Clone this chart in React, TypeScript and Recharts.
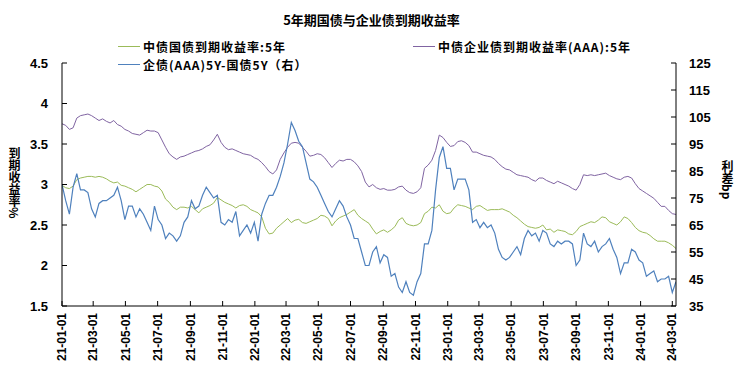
import React from 'react';
import { LineChart, Line, XAxis, YAxis } from 'recharts';

// ---- data (weekly samples starting 2021-01-01) ----
const startDate = '2021-01-01';

const govt5y: number[] = [
  2.99, 2.96, 2.95, 2.98, 3.06, 3.08, 3.09, 3.10, 3.10, 3.09, 3.10, 3.09, 3.07, 3.04, 3.02, 3.03, 2.99, 2.98, 2.96, 2.94,
  2.91, 2.94, 2.97, 3.00, 3.00, 2.98, 2.97, 2.92, 2.82, 2.78, 2.72, 2.69, 2.72, 2.72,
  2.71, 2.73, 2.69, 2.65, 2.70, 2.72, 2.74, 2.77, 2.84, 2.81, 2.78, 2.76, 2.74, 2.71, 2.74, 2.75, 2.73, 2.69, 2.67, 2.65,
  2.60, 2.46, 2.39, 2.40, 2.46, 2.50, 2.54, 2.58, 2.53, 2.56, 2.57, 2.53, 2.52, 2.54,
  2.56, 2.58, 2.62, 2.61, 2.58, 2.49, 2.55, 2.59, 2.61, 2.63, 2.66, 2.69, 2.62, 2.58, 2.55, 2.52, 2.45, 2.39, 2.42, 2.44,
  2.41, 2.44, 2.48, 2.56, 2.59, 2.52, 2.50, 2.49, 2.50, 2.53, 2.64, 2.67, 2.72,
  2.71, 2.75, 2.67, 2.64, 2.65, 2.71, 2.75, 2.74, 2.73, 2.71, 2.69, 2.73, 2.74, 2.71, 2.68, 2.69, 2.69, 2.69, 2.70, 2.68,
  2.66, 2.62, 2.59, 2.55, 2.51, 2.48, 2.47, 2.46, 2.47, 2.50, 2.44, 2.45, 2.41, 2.44,
  2.43, 2.42, 2.39, 2.38, 2.42, 2.48, 2.50, 2.52, 2.54, 2.53, 2.56, 2.60, 2.59, 2.54, 2.52, 2.50, 2.54, 2.60, 2.58, 2.53,
  2.47, 2.43, 2.41, 2.40, 2.37, 2.33, 2.30, 2.30, 2.30, 2.28, 2.25, 2.21,
];

const corpAAA5y: number[] = [
  3.75, 3.73, 3.68, 3.70, 3.82, 3.85, 3.86, 3.87, 3.85, 3.82, 3.79, 3.81, 3.78, 3.76, 3.79, 3.74, 3.72, 3.68, 3.66, 3.63,
  3.62, 3.61, 3.64, 3.67, 3.66, 3.66, 3.64, 3.55, 3.46, 3.38, 3.34, 3.31, 3.34, 3.35,
  3.37, 3.39, 3.41, 3.42, 3.44, 3.47, 3.49, 3.55, 3.62, 3.52, 3.46, 3.43, 3.44, 3.42, 3.40, 3.38, 3.37, 3.36, 3.33, 3.31,
  3.27, 3.22, 3.16, 3.13, 3.18, 3.31, 3.39, 3.46, 3.51, 3.52, 3.51, 3.46, 3.41, 3.35,
  3.36, 3.38, 3.37, 3.33, 3.27, 3.21, 3.26, 3.30, 3.29, 3.31, 3.31, 3.28, 3.23, 3.16, 3.03, 2.97, 3.00, 2.96, 2.94, 2.95,
  2.93, 2.93, 2.94, 2.97, 2.98, 2.93, 2.90, 2.89, 2.91, 2.96, 3.20, 3.24, 3.30,
  3.42, 3.61, 3.58, 3.52, 3.47, 3.48, 3.53, 3.54, 3.52, 3.48, 3.40, 3.40, 3.38, 3.36, 3.35, 3.34, 3.31, 3.26, 3.22, 3.19,
  3.18, 3.15, 3.12, 3.11, 3.10, 3.09, 3.06, 3.04, 3.08, 3.08, 3.05, 3.03, 3.01, 3.04,
  3.02, 3.00, 2.98, 2.95, 2.93, 3.00, 3.12, 3.11, 3.12, 3.11, 3.12, 3.13, 3.14, 3.11, 3.09, 3.07, 3.06, 3.09, 3.10, 3.08,
  3.01, 2.95, 2.92, 2.89, 2.86, 2.83, 2.78, 2.73, 2.73, 2.68, 2.64, 2.63,
];

const spreadBp: number[] = [
  80, 74, 69, 79, 84, 78, 78, 77, 71, 68, 73, 74, 74, 75, 76, 79, 74, 67, 72, 72,
  68, 71, 69, 66, 63, 72, 67, 65, 60, 62, 61, 59, 61, 66,
  68, 74, 71, 72, 76, 79, 77, 75, 76, 66, 65, 67, 66, 70, 61, 63, 65, 62, 66, 59,
  69, 73, 76, 76, 79, 83, 88, 95, 103, 100, 96, 94, 88, 82,
  81, 79, 76, 73, 70, 68, 71, 74, 72, 68, 65, 60, 60, 55, 50, 50, 55, 57, 51, 54,
  53, 46, 47, 42, 40, 44, 40, 39, 44, 47, 58, 58, 63,
  78, 90, 94, 86, 86, 78, 82, 82, 82, 78, 66, 67, 64, 66, 64, 65, 62, 56, 53, 52,
  53, 55, 57, 54, 60, 63, 61, 62, 59, 63, 62, 58, 57, 59,
  58, 59, 59, 58, 50, 52, 62, 58, 57, 59, 55, 57, 58, 60, 56, 53, 47, 51, 51, 56,
  55, 52, 51, 46, 47, 48, 44, 45, 45, 46, 40, 44,
];

const xTickLabels = [
  '21-01-01', '21-03-01', '21-05-01', '21-07-01', '21-09-01', '21-11-01',
  '22-01-01', '22-03-01', '22-05-01', '22-07-01', '22-09-01', '22-11-01',
  '23-01-01', '23-03-01', '23-05-01', '23-07-01', '23-09-01', '23-11-01',
  '24-01-01', '24-03-01',
];
const xEndLabel = '24-03-08';
const leftTicks = [1.5, 2, 2.5, 3, 3.5, 4, 4.5];
const rightTicks = [35, 45, 55, 65, 75, 85, 95, 105, 115, 125];

const seriesNames = {
  govt: '中债国债到期收益率:5年',
  corp: '中债企业债到期收益率(AAA):5年',
  spread: '企债(AAA)5Y-国债5Y（右）',
};
const titleText = '5年期国债与企业债到期收益率';
const leftTitle = '到期收益率%';
const rightTitle = '利差bp';

const COLORS = { govt: '#9BBB59', corp: '#8064A2', spread: '#4F81BD' };

// ---- helpers ----
const DAY = 86400000;
const labelToTime = (s: string) => {
  const [yy, mm, dd] = s.split('-').map(Number);
  return Date.UTC(2000 + yy, mm - 1, dd);
};
const t0 = Date.parse(startDate + 'T00:00:00Z');
const tEnd = labelToTime(xEndLabel);
const xTicks = xTickLabels.map(labelToTime);
const pad = (n: number) => String(n).padStart(2, '0');
const fmtDate = (t: number) => {
  const d = new Date(t);
  return `${pad(d.getUTCFullYear() % 100)}-${pad(d.getUTCMonth() + 1)}-${pad(d.getUTCDate())}`;
};

const data = govt5y.map((g, i) => ({
  t: t0 + i * 7 * DAY,
  govt: g,
  corp: corpAAA5y[i],
  spread: spreadBp[i],
}));

const tickFont = "'Liberation Sans', Arial, sans-serif";
const cjkFont = "'Noto Sans CJK SC', 'Noto Sans', sans-serif";

const LeftTick = (props: any) => {
  const { x, y, payload } = props;
  return (
    <g>
      <line x1={x} x2={x + 5} y1={y} y2={y} stroke="#000" strokeWidth={1} />
      <text x={x - 14} y={y} dy="0.35em" textAnchor="end" fontFamily={tickFont} fontWeight={700} fontSize={13} fill="#000">
        {String(payload.value)}
      </text>
    </g>
  );
};

const RightTick = (props: any) => {
  const { x, y, payload } = props;
  return (
    <g>
      <line x1={x - 5} x2={x} y1={y} y2={y} stroke="#000" strokeWidth={1} />
      <text x={x + 13} y={y} dy="0.35em" textAnchor="start" fontFamily={tickFont} fontWeight={700} fontSize={13} fill="#000">
        {String(payload.value)}
      </text>
    </g>
  );
};

const BottomTick = (props: any) => {
  const { x, y, payload } = props;
  return (
    <g>
      <line x1={x} x2={x} y1={y} y2={y - 5} stroke="#000" strokeWidth={1} />
      <text
        x={x}
        y={y + 7}
        dy="0.35em"
        textAnchor="end"
        transform={`rotate(-90, ${x}, ${y + 7})`}
        fontFamily={tickFont}
        fontWeight={700}
        fontSize={12}
        fill="#000"
      >
        {fmtDate(payload.value)}
      </text>
    </g>
  );
};

const textStyle: React.CSSProperties = {
  fontFamily: cjkFont,
  fontWeight: 700,
  fontSize: 13,
  color: '#000',
  whiteSpace: 'nowrap',
  lineHeight: '13px',
};

const LegendItem = ({ left, top, color, label }: { left: number; top: number; color: string; label: string }) => (
  <div style={{ position: 'absolute', left, top, height: 13, display: 'flex', alignItems: 'center' }}>
    <div style={{ width: 22, height: 1, background: color, marginRight: 3 }} />
    <span style={{ ...textStyle, fontSize: 12, lineHeight: '12px', letterSpacing: '1px' }}>{label}</span>
  </div>
);

const VerticalTitle = ({ text, centerX, top }: { text: string; centerX: number; top: number }) => (
  <div
    style={{
      ...textStyle,
      fontSize: 12,
      lineHeight: '12px',
      position: 'absolute',
      left: centerX - 6,
      top,
      writingMode: 'vertical-rl',
    }}
  >
    {text}
  </div>
);

export default function App() {
  return (
    <div style={{ position: 'absolute', left: 0, top: 0, width: 743, height: 378, background: '#fff' }}>
      <LineChart width={743} height={378} data={data} margin={{ top: 63, right: 17, bottom: 7, left: 12 }}>
        <XAxis
          dataKey="t"
          type="number"
          domain={[t0, tEnd]}
          ticks={xTicks}
          interval={0}
          tick={<BottomTick />}
          tickSize={0}
          tickMargin={0}
          height={65}
          axisLine={{ stroke: '#000', strokeWidth: 1 }}
          tickLine={false}
          allowDataOverflow
        />
        <YAxis
          yAxisId="left"
          domain={[1.5, 4.5]}
          ticks={leftTicks}
          interval={0}
          width={50}
          tick={<LeftTick />}
          tickSize={0}
          tickMargin={0}
          axisLine={{ stroke: '#000', strokeWidth: 1 }}
          tickLine={false}
          allowDataOverflow
        />
        <YAxis
          yAxisId="right"
          orientation="right"
          domain={[35, 125]}
          ticks={rightTicks}
          interval={0}
          width={50}
          tick={<RightTick />}
          tickSize={0}
          tickMargin={0}
          axisLine={{ stroke: '#000', strokeWidth: 1 }}
          tickLine={false}
          allowDataOverflow
        />
        <Line yAxisId="left" type="linear" dataKey="govt" name={seriesNames.govt} stroke={COLORS.govt} strokeWidth={1} dot={false} isAnimationActive={false} />
        <Line yAxisId="left" type="linear" dataKey="corp" name={seriesNames.corp} stroke={COLORS.corp} strokeWidth={1} dot={false} isAnimationActive={false} />
        <Line yAxisId="right" type="linear" dataKey="spread" name={seriesNames.spread} stroke={COLORS.spread} strokeWidth={1.2} dot={false} isAnimationActive={false} />
      </LineChart>

      <div style={{ ...textStyle, position: 'absolute', left: 0, top: 13, width: 743, textAlign: 'center', lineHeight: '14px' }}>
        {titleText}
      </div>

      <LegendItem left={118} top={40} color={COLORS.govt} label={seriesNames.govt} />
      <LegendItem left={413} top={40} color={COLORS.corp} label={seriesNames.corp} />
      <LegendItem left={118} top={58} color={COLORS.spread} label={seriesNames.spread} />

      <VerticalTitle text={leftTitle} centerX={14} top={147} />
      <VerticalTitle text={rightTitle} centerX={727} top={160} />
    </div>
  );
}
